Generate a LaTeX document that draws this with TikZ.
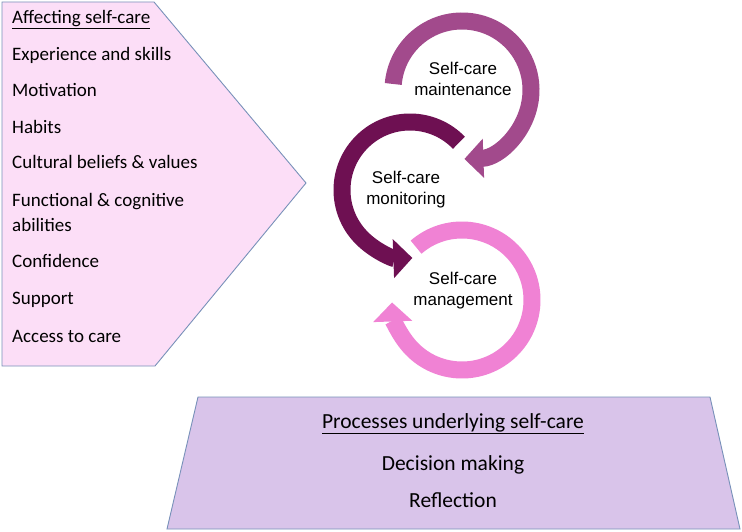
\documentclass[tikz,border=0pt]{standalone}
\usepackage{fontspec}
\setmainfont{Carlito}
\newfontfamily\arialfont{Liberation Sans}
\usepackage{xcolor}
\usetikzlibrary{arrows.meta,positioning}
\definecolor{affectpink}{RGB}{252,222,247}
\definecolor{processlilac}{RGB}{217,196,234}
\definecolor{shapeedge}{RGB}{120,145,185}
\definecolor{maintcol}{RGB}{162,74,140}
\definecolor{monitcol}{RGB}{110,16,82}
\definecolor{managecol}{RGB}{240,130,212}

\begin{document}
\begin{tikzpicture}[x=1pt, y=1pt]
  \tikzset{
    panel/.style={draw=shapeedge, line width=0.9pt, line join=miter},
    factor/.style={anchor=base west, inner sep=0pt, align=left, font=\fontsize{19}{25}\selectfont},
    process/.style={anchor=base, inner sep=0pt, font=\fontsize{21.5}{26}\selectfont},
    ring/.style={line width=17pt, -{Triangle[width=38pt,length=19pt]}},
    halo/.style={draw=white, line width=21pt},
    ringlabel/.style={align=center, inner sep=0pt, font=\arialfont\fontsize{17}{21}\selectfont}
  }
  \useasboundingbox (0,0) rectangle (742,531);

  % --- LEFT: factors affecting self-care ---
  \draw[panel, fill=affectpink] (2,529) -- (154,529) -- (306,348) -- (155,165) -- (2,165) -- cycle;
  \node[factor] (affect) at (12,507) {\underline{Affecting self-care}};
  % (two-line entry: base is its last line)
  \foreach \txt/\yy/\nm in {Experience and skills/470/skills, Motivation/434/motiv, Habits/397/habits,
      Cultural beliefs \& values/362/culture, Functional \& cognitive\\abilities/299/ability,
      Confidence/263/confid, Support/226/support, Access to care/189/access} {
    \node[factor] (\nm) at (12,\yy) {\txt};
  }

  % --- BOTTOM: underlying processes ---
  \draw[panel, fill=processlilac] (198,134) -- (710,134) -- (740,2) -- (167,2) -- cycle;
  \node[process] (proc) at (453,103) {\underline{Processes underlying self-care}};
  \node[process] (decide) at (453,61) {Decision making};
  \node[process] (reflect) at (453,24) {Reflection};

  % --- CENTRE: the three circular arrows ---
  \coordinate (cMaint) at (462,441);
  \coordinate (cMonit) at (410,341);
  \coordinate (cManage) at (462,231);

  % monitoring (dark)
  \draw[halo] ([shift={(44:68)}]cMonit) arc[start angle=44, end angle=272, radius=68];
  \draw[ring, monitcol] ([shift={(44:68)}]cMonit) arc[start angle=44, end angle=272, radius=68];
  % management (pink)
  \draw[halo] ([shift={(131:70)}]cManage) arc[start angle=131, end angle=-178, radius=70];
  \draw[ring, managecol] ([shift={(131:70)}]cManage) arc[start angle=131, end angle=-178, radius=70];
  % maintenance (mid purple)
  \draw[halo] ([shift={(175:69)}]cMaint) arc[start angle=175, end angle=-88, radius=69];
  \draw[ring, maintcol] ([shift={(175:69)}]cMaint) arc[start angle=175, end angle=-88, radius=69];

  \node[ringlabel] (maint) at (463,452) {Self-care\\maintenance};
  \node[ringlabel] (monit) at (406,341) {Self-care\\monitoring};
  \node[ringlabel] (manage) at (463,240) {Self-care\\management};
\end{tikzpicture}
\end{document}
